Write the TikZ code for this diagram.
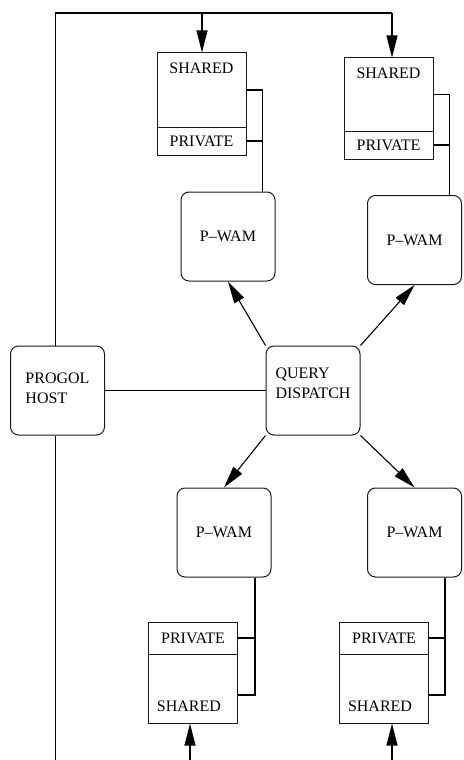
\documentclass[tikz,border=0pt]{standalone}
\usepackage{fontspec}
\setmainfont{Liberation Serif}
\usetikzlibrary{arrows.meta}

\colorlet{box edge}{black!90}
\tikzset{
  every node/.style={font=\fontsize{16}{20}\selectfont},
  proc/.style={draw=box edge, line width=1pt, rounded corners=8pt, minimum width=94pt, minimum height=89pt, inner sep=0pt, align=left},
  mem/.style={draw=box edge, line width=1pt, minimum width=89pt, inner sep=0pt},
  memtxt/.style={inner sep=0pt}
  }
\tikzstyle{wire} = [draw, line width=1.1pt]
\tikzstyle{feed} = [wire, -{Triangle[length=22pt,width=11pt]}]

\begin{document}
\begin{tikzpicture}[x=1pt,y=-1pt]
  \useasboundingbox (0,0) rectangle (463,760);

  \node[proc] (host) at (57.5,390.5) {PROGOL\\HOST\\[-16pt]\mbox{}};
  \node[proc] (qd) at (313,390.5) {QUERY\\DISPATCH\\[-6pt]\mbox{}};
  \foreach \pos/\name in {{(228,236.5)/pw1}, {(414.5,240)/pw2}, {(224,532.5)/pw3}, {(414.5,532.5)/pw4}} {
    \node[proc] (\name) at \pos {P--WAM};
  }

  % memory boxes
  \node[mem, minimum height=74pt] (sh1) at (201.5,90) {};
  \node[mem, minimum height=28pt] (pv1) at (201.5,141) {PRIVATE};
  \node[mem, minimum height=73pt] (sh2) at (388.5,94.5) {};
  \node[mem, minimum height=28pt] (pv2) at (388.5,145) {PRIVATE};
  \node[mem, minimum height=32pt] (pv3) at (193,638) {PRIVATE};
  \node[mem, minimum height=69pt] (sh3) at (193,688.5) {};
  \node[mem, minimum height=32pt] (pv4) at (384,638) {PRIVATE};
  \node[mem, minimum height=69pt] (sh4) at (384,688.5) {};
  \node[memtxt] (sh1t) at ([yshift=-16pt]sh1.north) {SHARED};
  \node[memtxt] (sh2t) at ([yshift=-16pt]sh2.north) {SHARED};
  \node[memtxt] (sh3t) at ([xshift=-4pt,yshift=17pt]sh3.south) {SHARED};
  \node[memtxt] (sh4t) at ([xshift=-4pt,yshift=17pt]sh4.south) {SHARED};

  \coordinate (corner) at (55.5,13);
  \coordinate (t1) at (202,13);
  \coordinate (t2) at (392,13);
  \coordinate (b0) at (55.5,760);
  \coordinate (b1) at (190,760);
  \coordinate (b2) at (392,760);

  % host bus
  \draw[wire] (t2) -- (corner) -- (corner |- host.north);
  \draw[wire] (corner |- host.south) -- (b0);
  \draw[feed] (t1) -- (t1 |- sh1.north);
  \draw[feed] (t2) -- (t2 |- sh2.north);
  \draw[feed] (b1) -- (b1 |- sh3.south);
  \draw[feed] (b2) -- (b2 |- sh4.south);
  \draw[wire] (host.east) -- (qd.west);

  \foreach \from/\to in {qd.north west/pw1.south, qd.north east/pw2.south, qd.south west/pw3.north, qd.south east/pw4.north}
    \draw[feed] (\from) -- (\to);

  % memory links
  \draw[wire] (sh1.east) -- ++(16,0) coordinate (j1) -- (j1 |- pw1.north);
  \draw[wire] (pv1.east) -- (pv1.east -| j1);
  \draw[wire] (sh2.east) -- ++(16,0) coordinate (j2) -- (j2 |- pw2.north);
  \draw[wire] (pv2.east) -- (pv2.east -| j2);
  \coordinate (j3) at ([xshift=17pt]pv3.east);
  \coordinate (tap3) at ([yshift=-6.5pt]sh3.east);
  \draw[wire] (pv3.east) -- (j3);
  \draw[wire] (j3 |- pw3.south) -- (j3 |- tap3) -- (tap3);
  \coordinate (j4) at ([xshift=16pt]pv4.east);
  \coordinate (tap4) at ([yshift=-6.5pt]sh4.east);
  \draw[wire] (pv4.east) -- (j4);
  \draw[wire] (j4 |- pw4.south) -- (j4 |- tap4) -- (tap4);
\end{tikzpicture}
\end{document}
